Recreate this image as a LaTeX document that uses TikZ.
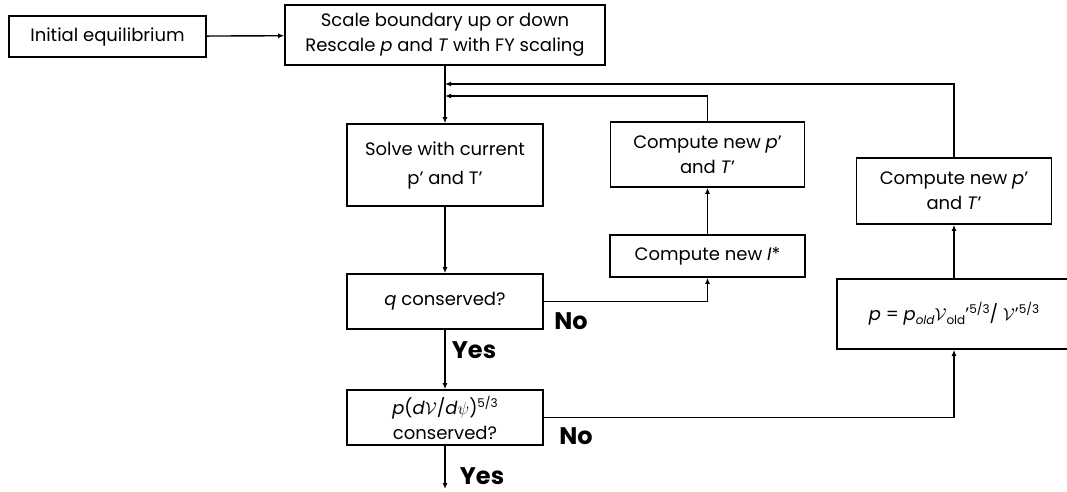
\documentclass[tikz,border=0pt]{standalone}
\usepackage{fontspec}
\setmainfont{Poppins}
\usetikzlibrary{arrows.meta}
\newcommand{\subsc}[1]{\raisebox{-4pt}{\fontsize{12}{12}\selectfont #1}}
\newcommand{\supsc}[1]{\raisebox{7pt}{\fontsize{12}{12}\selectfont #1}}
\tikzset{
  box/.style={draw, line width=1.6pt, align=center, inner sep=0pt, font=\fontsize{18}{25}\selectfont},
  arr/.style={line width=1.4pt, -{Latex[length=6pt,width=5pt]}},
  ans/.style={font=\fontsize{24}{24}\selectfont\bfseries, inner sep=0pt}
}
\begin{document}
\begin{tikzpicture}[x=1pt,y=-1pt]
  \useasboundingbox (0,0) rectangle (1067,492);
  % boxes
  \node[box, minimum width=197pt, minimum height=41pt] (init)  at (107.5, 36.5) {Initial equilibrium};
  \node[box, minimum width=320pt, minimum height=60pt] (scale) at (445, 35) {Scale boundary up or down\\Rescale \textit{p} and \textit{T} with FY scaling};
  \node[box, minimum width=196pt, minimum height=82pt, font=\fontsize{18}{29}\selectfont] (solve) at (445, 165) {Solve with current\\p’ and T’};
  \node[box, minimum width=196pt, minimum height=55pt] (qcons) at (445, 301.5) {\textit{q} conserved?};
  \node[box, minimum width=196pt, minimum height=55pt] (pcons) at (445, 417.5) {\textit{p}(\textit{d}$\mathcal{V}$/\textit{d}$\psi$)\supsc{5/3}\\conserved?};
  \node[box, minimum width=195pt, minimum height=42pt] (istar) at (707.5, 256) {Compute new \textit{I}*};
  \node[box, minimum width=194pt, minimum height=65pt] (compA) at (707.5, 154.5) {Compute new \textit{p}’\\and \textit{T}’};
  \node[box, minimum width=195pt, minimum height=66pt] (compB) at (954, 191) {Compute new \textit{p}’\\and \textit{T}’};
  \node[box, minimum width=234pt, minimum height=70pt] (pnew)  at (954, 314) {\textit{p} = \textit{p}\subsc{\textit{old}}$\mathcal{V}$\subsc{old}’\supsc{5/3}/ $\mathcal{V}$’\supsc{5/3}};
  \coordinate (jB) at (445, 84);
  \coordinate (jA) at (445, 96);
  \coordinate (out) at (445, 489);
  % connectors
  \draw[arr] (init) -- (scale);
  \draw[arr] (scale) -- (solve);
  \draw[arr] (compA.north) |- (jA);
  \draw[arr] (compB.north) |- (jB);
  \draw[arr] (solve) -- (qcons);
  \draw[arr] (qcons.east) -| (istar.south);
  \draw[arr] (istar) -- (compA);
  \draw[arr] (qcons) -- (pcons);
  \draw[arr] (pcons.east) -| (pnew.south);
  \draw[arr] (pnew) -- (compB);
  \draw[arr] (pcons) -- (out);
  % labels
  \node[ans] (no1)  at (571, 321) {No};
  \node[ans] (no2)  at (576, 436) {No};
  \node[ans] (yes1) at (474, 350) {Yes};
  \node[ans] (yes2) at (482, 476) {Yes};
\end{tikzpicture}
\end{document}
